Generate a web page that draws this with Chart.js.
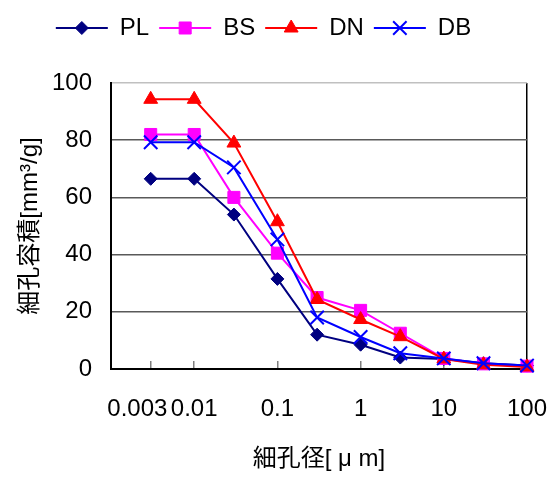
<!DOCTYPE html>
<html>
<head>
<meta charset="utf-8">
<title>細孔径分布</title>
<script src="https://cdn.jsdelivr.net/npm/chart.js@4/dist/chart.umd.min.js"></script>
<style>
  html, body { margin: 0; padding: 0; background: #fff; }
</style>
</head>
<body>
<canvas id="poreChart" width="550" height="477"></canvas>
<script>
// pore diameter [um] and cumulative pore volume [mm3/g]
const poreSizes = [0.003, 0.01, 0.03, 0.1, 0.3, 1, 3, 10, 30, 100];
const xTicks = [0.003, 0.01, 0.1, 1, 10, 100];
const yTicks = [0, 20, 40, 60, 80, 100];
const PL = [66.5, 66.5, 54, 31.5, 12, 8.5, 4, 3.5, 2, 1.2];
const BS = [82, 82, 60, 40.5, 25, 20.5, 12.5, 3.7, 1.8, 1];
const DN = [94.3, 94.3, 79, 51.5, 24.3, 17.3, 11.3, 3.5, 1.5, 0.7];
const DB = [79.3, 79.3, 70.5, 45.3, 18, 11.2, 5.5, 3.7, 2, 1.2];

const latin = "'Liberation Sans', Arial, 'Noto Sans CJK JP', sans-serif";

function series(label, values, color, style, radius, order) {
    return {
        label: label,
        data: poreSizes.map((x, i) => ({ x: x, y: values[i] })),
        borderColor: color,
        backgroundColor: color,
        borderWidth: 2,
        pointStyle: style,
        pointRadius: radius,
        pointHoverRadius: radius,
        pointBackgroundColor: color,
        pointBorderColor: color,
        pointBorderWidth: style === 'crossRot' ? 2 : 1,
        tension: 0,
        clip: false,
        order: order
    };
}

// legend: line sample with the series marker on top, extra space under it
const legendMarkers = {
    id: 'legendMarkers',
    beforeUpdate(chart) {
        const lg = chart.legend;
        if (lg && !lg.$gap) {
            const fit = lg.fit;
            lg.fit = function () {
                fit.call(this);
                this.height += 33;
            };
            lg.$gap = true;
        }
    },
    afterDraw(chart) {
        const lg = chart.legend;
        if (!lg || !lg.legendHitBoxes || !Chart.helpers) return;
        const opts = lg.options.labels;
        const size = opts.font.size;
        const ctx = chart.ctx;
        lg.legendItems.forEach((item, i) => {
            const box = lg.legendHitBoxes[i];
            const ds = chart.data.datasets[item.datasetIndex];
            ctx.save();
            ctx.fillStyle = ds.pointBackgroundColor;
            ctx.strokeStyle = ds.pointBorderColor;
            ctx.lineWidth = ds.pointBorderWidth;
            Chart.helpers.drawPoint(ctx, {
                pointStyle: ds.pointStyle,
                radius: ds.pointRadius,
                rotation: 0,
                borderWidth: ds.pointBorderWidth
            }, box.left + opts.boxWidth / 2, box.top + size / 2);
            ctx.restore();
        });
    }
};

new Chart(document.getElementById('poreChart'), {
    type: 'line',
    data: {
        datasets: [
            series('PL', PL, '#000080', 'rectRot', 6.5, 3),
            series('BS', BS, '#FF00FF', 'rect', 8.5, 2),
            series('DN', DN, '#FF0000', 'triangle', 8, 1),
            series('DB', DB, '#0000FF', 'crossRot', 9.5, 0)
        ]
    },
    plugins: [legendMarkers],
    options: {
        responsive: false,
        animation: false,
        events: [],
        layout: { padding: { top: 6, right: 23, left: 0, bottom: 0 } },
        plugins: {
            legend: {
                display: true,
                position: 'top',
                labels: {
                    boxWidth: 52,
                    boxHeight: 2,
                    padding: 10,
                    color: '#000',
                    font: { family: latin, size: 24 },
                    sort: (a, b) => a.datasetIndex - b.datasetIndex,
                    generateLabels(chart) {
                        return Chart.defaults.plugins.legend.labels.generateLabels(chart).map(l => {
                            l.fillStyle = l.strokeStyle;
                            l.lineWidth = 0;
                            return l;
                        });
                    }
                }
            },
            tooltip: { enabled: false }
        },
        scales: {
            x: {
                type: 'logarithmic',
                min: 0.001,
                max: 100,
                afterBuildTicks: s => { s.ticks = xTicks.map(v => ({ value: v })); },
                afterFit: s => {
                    s.height = 108;
                    s.paddingLeft = 0;
                    s.paddingRight = 0;
                },
                border: { color: '#000', width: 2 },
                grid: {
                    drawOnChartArea: true,
                    color: c => (c.tick && c.tick.value === 100) ? '#000' : 'rgba(0,0,0,0)',
                    lineWidth: 1.5,
                    tickColor: '#808080',
                    tickLength: -8,
                    drawTicks: true
                },
                ticks: {
                    autoSkip: false,
                    maxRotation: 0,
                    padding: 34,
                    color: '#000',
                    font: { family: latin, size: 24 },
                    // first label sits a little to the left of its tick
                    callback: v => v === 0.003 ? '0.003    ' : String(v)
                },
                title: {
                    display: true,
                    text: '細孔径[ μ m]',
                    color: '#000',
                    font: { family: latin, size: 24 },
                    padding: { top: 0, bottom: 3 }
                }
            },
            y: {
                min: 0,
                max: 100,
                afterBuildTicks: s => { s.ticks = yTicks.map(v => ({ value: v })); },
                afterFit: s => { s.width = 111; },
                border: { color: '#000', width: 2 },
                grid: {
                    color: c => (c.tick && c.tick.value === 100) ? '#c0c0c0' : '#595959',
                    lineWidth: 1.5,
                    drawTicks: false
                },
                ticks: {
                    padding: 19,
                    color: '#000',
                    font: { family: latin, size: 24 }
                },
                title: {
                    display: true,
                    text: '細孔容積[mm³/g]',
                    color: '#000',
                    font: { family: latin, size: 24 },
                    padding: { top: 16, bottom: 0 }
                }
            }
        }
    }
});
</script>
</body>
</html>
